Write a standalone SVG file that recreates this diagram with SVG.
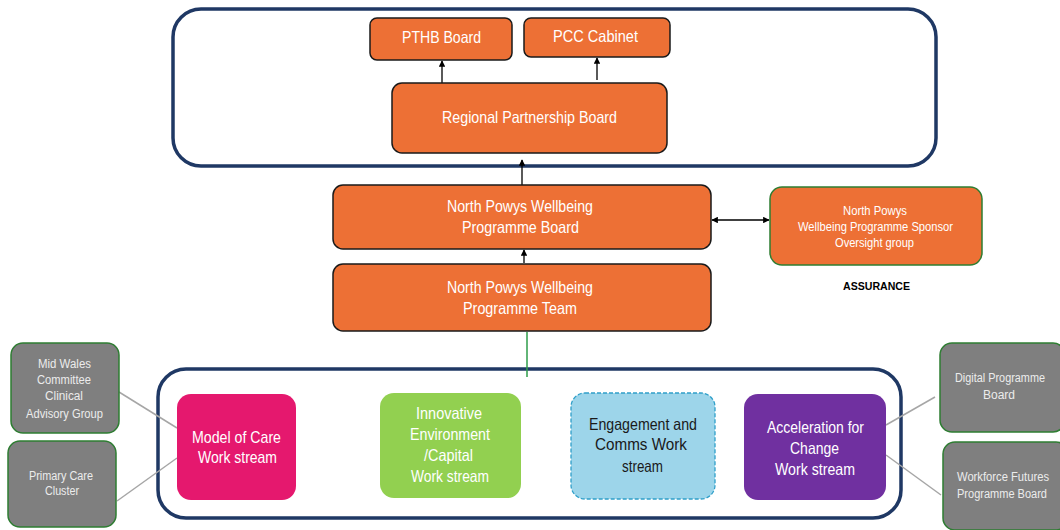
<svg xmlns="http://www.w3.org/2000/svg" width="1060" height="530" viewBox="0 0 1060 530">
<style>
.cont{fill:#fff;stroke:#1f3864;stroke-width:3.5}
.or{fill:#ed7035;stroke:#1a1a1a;stroke-width:1.5}
.t{font-family:"Liberation Sans",Arial,sans-serif;text-anchor:middle;fill:#fff}
.s{font-family:"Liberation Sans",Arial,sans-serif;text-anchor:middle;fill:#ececec;font-size:12px}
.d{font-family:"Liberation Sans",Arial,sans-serif;text-anchor:middle;fill:#1a1a1a;font-size:16.5px}
.gr{fill:#7f7f7f;stroke:#2e7d32;stroke-width:1.5}
.gl{stroke:#a6a6a6;stroke-width:1.5;fill:none}
.ar{stroke:#000;stroke-width:1.3;fill:none}
</style>
<defs>
<marker id="ah" viewBox="0 0 10 10" refX="9" refY="5" markerWidth="5" markerHeight="5" orient="auto-start-reverse"><path d="M0,0 L10,5 L0,10 z" fill="#000"/></marker>
</defs>
<rect width="1060" height="530" fill="#fff"/>
<g id="top-container"><rect class="cont" x="173" y="9" width="763" height="157" rx="28"/></g>
<g id="bottom-container"><rect class="cont" x="158" y="369" width="743" height="149" rx="28"/></g>
<g id="connectors">
<line class="ar" x1="442" y1="83" x2="442" y2="61" marker-end="url(#ah)"/>
<line class="ar" x1="597" y1="80" x2="597" y2="58" marker-end="url(#ah)"/>
<line class="ar" x1="522" y1="185" x2="522" y2="160" marker-end="url(#ah)"/>
<line class="ar" x1="524" y1="263" x2="524" y2="250" marker-end="url(#ah)"/>
<line class="ar" x1="712" y1="220" x2="769" y2="220" marker-start="url(#ah)" marker-end="url(#ah)"/>
<line x1="527" y1="332" x2="527" y2="377" stroke="#2e9d4a" stroke-width="1.5"/>
<line class="gl" x1="119" y1="392" x2="177" y2="428"/>
<line class="gl" x1="117" y1="501" x2="177" y2="458"/>
<line class="gl" x1="886" y1="425" x2="935" y2="397"/>
<line class="gl" x1="886" y1="455" x2="941" y2="495"/>
</g>
<g id="pthb"><rect class="or" x="370" y="18" width="142" height="42" rx="7"/><text class="t" x="441.5" y="43" font-size="16.5" textLength="79" lengthAdjust="spacingAndGlyphs">PTHB Board</text></g>
<g id="pcc"><rect class="or" x="524" y="18" width="146" height="39" rx="7"/><text class="t" x="595.5" y="42" font-size="16.5" textLength="85" lengthAdjust="spacingAndGlyphs">PCC Cabinet</text></g>
<g id="rpb"><rect class="or" x="392" y="83" width="275" height="70" rx="10"/><text class="t" x="529.5" y="123" font-size="16.5" textLength="175" lengthAdjust="spacingAndGlyphs">Regional  Partnership  Board</text></g>
<g id="npwpb"><rect class="or" x="333" y="185" width="378" height="64" rx="10"/><text class="t" x="520" y="212" font-size="16.5" textLength="146" lengthAdjust="spacingAndGlyphs">North Powys Wellbeing</text><text class="t" x="520.5" y="233" font-size="16.5" textLength="117" lengthAdjust="spacingAndGlyphs">Programme  Board</text></g>
<g id="npwpt"><rect class="or" x="333" y="264" width="378" height="67" rx="10"/><text class="t" x="520" y="293" font-size="16.5" textLength="146" lengthAdjust="spacingAndGlyphs">North Powys Wellbeing</text><text class="t" x="520" y="314" font-size="16.5" textLength="114" lengthAdjust="spacingAndGlyphs">Programme  Team</text></g>
<g id="sponsor"><rect x="770" y="187" width="212" height="78" rx="12" fill="#ed7035" stroke="#2e7d32" stroke-width="1.5"/><text class="t" x="875" y="215" font-size="12" textLength="64" lengthAdjust="spacingAndGlyphs">North  Powys</text><text class="t" x="875.5" y="231" font-size="12" textLength="155" lengthAdjust="spacingAndGlyphs">Wellbeing Programme  Sponsor</text><text class="t" x="874.5" y="247" font-size="12" textLength="79" lengthAdjust="spacingAndGlyphs">Oversight group</text></g>
<g id="assurance"><text x="876.5" y="290" font-size="10.5" font-weight="bold" font-family="'Liberation Sans',Arial,sans-serif" text-anchor="middle" fill="#000" textLength="67" lengthAdjust="spacingAndGlyphs">ASSURANCE</text></g>
<g id="model-of-care"><rect x="177" y="394" width="119" height="106" rx="14" fill="#e5186e"/><text class="t" x="236.5" y="443" font-size="17" textLength="89" lengthAdjust="spacingAndGlyphs">Model of Care</text><text class="t" x="237.5" y="463" font-size="17" textLength="79" lengthAdjust="spacingAndGlyphs">Work stream</text></g>
<g id="innovative"><rect x="380" y="393" width="141" height="105" rx="14" fill="#92d050"/><text class="t" x="449" y="419" font-size="16.5" textLength="66" lengthAdjust="spacingAndGlyphs">Innovative</text><text class="t" x="450" y="440" font-size="16.5" textLength="80" lengthAdjust="spacingAndGlyphs">Environment</text><text class="t" x="448.5" y="461" font-size="16.5" textLength="49" lengthAdjust="spacingAndGlyphs">/Capital</text><text class="t" x="450" y="482" font-size="16.5" textLength="78" lengthAdjust="spacingAndGlyphs">Work stream</text></g>
<g id="engagement"><rect x="571" y="393" width="144" height="106" rx="14" fill="#9dd5ea" stroke="#2f9fc9" stroke-width="1.3" stroke-dasharray="4,2"/><text class="d" x="643" y="430" textLength="108" lengthAdjust="spacingAndGlyphs">Engagement  and</text><text class="d" x="641" y="450" textLength="92" lengthAdjust="spacingAndGlyphs">Comms Work</text><text class="d" x="642.5" y="472" textLength="41" lengthAdjust="spacingAndGlyphs">stream</text></g>
<g id="acceleration"><rect x="744" y="394" width="142" height="106" rx="14" fill="#7030a0"/><text class="t" x="815.5" y="433" font-size="16.5" textLength="97" lengthAdjust="spacingAndGlyphs">Acceleration for</text><text class="t" x="814.5" y="454" font-size="16.5" textLength="49" lengthAdjust="spacingAndGlyphs">Change</text><text class="t" x="815" y="475" font-size="16.5" textLength="80" lengthAdjust="spacingAndGlyphs">Work stream</text></g>
<g id="mid-wales"><rect class="gr" x="11" y="343" width="108" height="90" rx="12"/><text class="s" x="64.5" y="368" textLength="53" lengthAdjust="spacingAndGlyphs">Mid Wales</text><text class="s" x="64" y="384" textLength="54" lengthAdjust="spacingAndGlyphs">Committee</text><text class="s" x="64" y="400" textLength="38" lengthAdjust="spacingAndGlyphs">Clinical</text><text class="s" x="64.5" y="418" textLength="77" lengthAdjust="spacingAndGlyphs">Advisory Group</text></g>
<g id="primary-care"><rect class="gr" x="8" y="441" width="108" height="86" rx="12"/><text class="s" x="61" y="480" textLength="64" lengthAdjust="spacingAndGlyphs">Primary  Care</text><text class="s" x="62" y="495" textLength="34" lengthAdjust="spacingAndGlyphs">Cluster</text></g>
<g id="digital"><rect class="gr" x="940" y="343" width="125" height="89" rx="12"/><text class="s" x="1000" y="382" textLength="90" lengthAdjust="spacingAndGlyphs">Digital Programme</text><text class="s" x="999" y="399" textLength="32" lengthAdjust="spacingAndGlyphs">Board</text></g>
<g id="workforce"><rect class="gr" x="943" y="442" width="125" height="88" rx="12"/><text class="s" x="1003" y="481" textLength="92" lengthAdjust="spacingAndGlyphs">Workforce  Futures</text><text class="s" x="1002" y="498" textLength="90" lengthAdjust="spacingAndGlyphs">Programme  Board</text></g>
</svg>
